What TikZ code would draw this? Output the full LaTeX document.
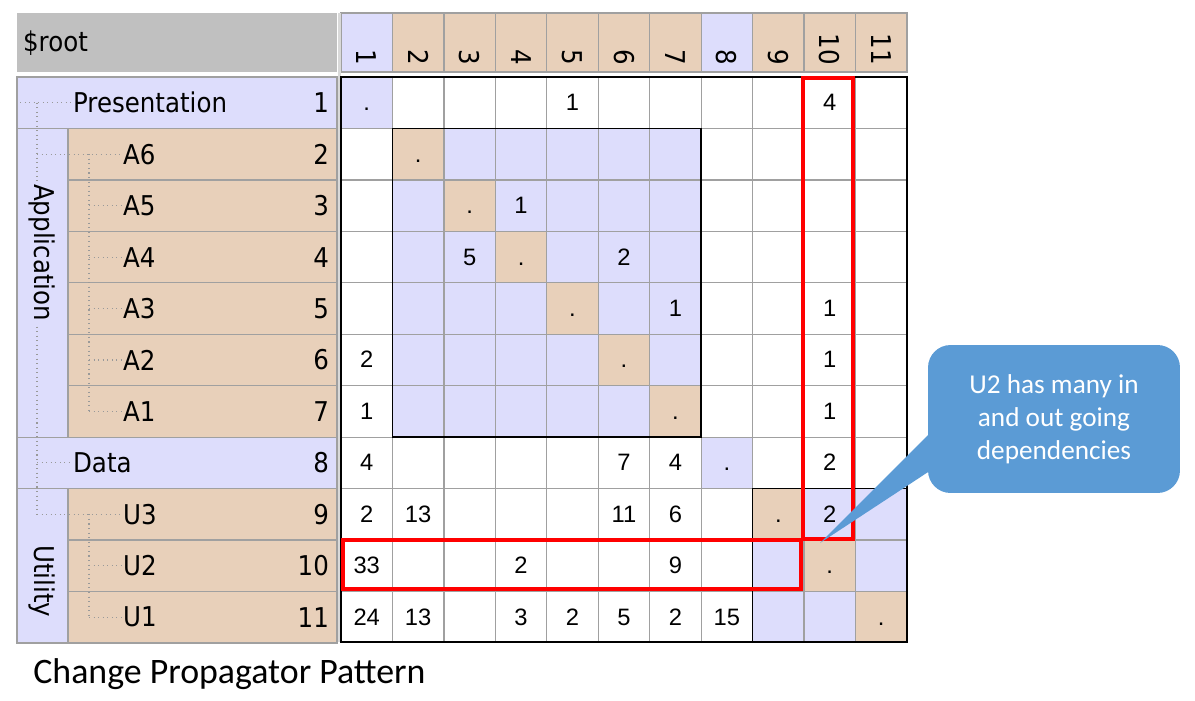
\documentclass[tikz,border=0pt]{standalone}
\usepackage{fontspec}
\setmainfont{Liberation Sans}
\newfontfamily\tahfont[FakeStretch=0.9]{DejaVu Sans}
\newfontfamily\calfont{Carlito}
\definecolor{lavender}{RGB}{221,221,252}
\definecolor{tanbg}{RGB}{232,208,186}
\definecolor{hdrgray}{RGB}{192,192,192}
\definecolor{gridgray}{RGB}{160,160,160}
\definecolor{noteblue}{RGB}{91,155,213}
\def\cw{51.45}
\tikzset{%
  % Specifications for style of cells and texts:
       cellbase/.style = {draw=gridgray, line width=0.7pt},
        lavcell/.style = {cellbase, fill=lavender},
        tancell/.style = {cellbase, fill=tanbg},
       rowlabel/.style = {inner sep=1pt, font=\tahfont\fontsize{15.5}{18}\selectfont},
       collabel/.style = {rowlabel, rotate=-90, anchor=east},
     grouplabel/.style = {rowlabel, rotate=-90, anchor=west, fill=lavender},
       cellval/.style  = {inner sep=0pt, anchor=base,
                          font=\fontsize{13.5}{16}\selectfont},
       treeline/.style = {draw=gray!80, dotted, line width=0.6pt},
       gridline/.style = {draw=gridgray, line width=0.7pt},
      blockline/.style = {draw=black, line width=1pt},
       markline/.style = {draw=red, line width=2pt},
        notebox/.style = {rectangle, rounded corners=0.45cm, fill=noteblue,
                          text=white, minimum width=5.04cm, minimum height=2.96cm,
                          align=center, font=\calfont\fontsize{15.5}{18.7}\selectfont},
}
\begin{document}
\begin{tikzpicture}[x=0.02cm, y=-0.02cm]
  \useasboundingbox (0,0) rectangle (1195,700);

  % Tree header and column headers
  \path[fill=hdrgray] (17,13) rectangle (337,72);
  \node (root) [rowlabel, anchor=west] at (21,43) {\$root};
  \foreach \c/\clr in {1/lavender,2/tanbg,3/tanbg,4/tanbg,5/tanbg,6/tanbg,
                       7/tanbg,8/lavender,9/tanbg,10/tanbg,11/tanbg} {
    \path[cellbase, fill=\clr] ({341+(\c-1)*\cw},13) rectangle ({341+\c*\cw},72);
    \node (col\c) [collabel] at ({341+(\c-0.5)*\cw},67) {\c};
  }
  \draw[gray!30, line width=1.5pt] (339.5,13) -- (339.5,642);

  % Rows of the tree
  \foreach \r/\clr/\xl in {1/lavender/17,2/tanbg/68,3/tanbg/68,4/tanbg/68,
                           5/tanbg/68,6/tanbg/68,7/tanbg/68,8/lavender/17,
                           9/tanbg/68,10/tanbg/68,11/tanbg/68}
    \path[cellbase, fill=\clr] (\xl,{77+(\r-1)*\cw}) rectangle (337,{77+\r*\cw});
  \path[lavcell] (17,{77+\cw}) rectangle (68,{77+7*\cw});
  \path[lavcell] (17,{77+8*\cw}) rectangle (68,{77+11*\cw});

  \node (pres) [rowlabel, anchor=west] at (71,{77+0.5*\cw}) {Presentation};
  \node (data) [rowlabel, anchor=west] at (71,{77+7.5*\cw}) {Data};
  \foreach \r/\nm/\txt in {2/a6/A6,3/a5/A5,4/a4/A4,5/a3/A3,6/a2/A2,7/a1/A1,
                           9/u3/U3,10/u2/U2,11/u1/U1}
    \node (\nm) [rowlabel, anchor=west] at (121,{77+(\r-0.5)*\cw}) {\txt};
  \foreach \r in {1,...,11}
    \node (num\r) [rowlabel, anchor=east] at (331,{77+(\r-0.5)*\cw}) {\r};

  % Dotted tree lines
  \coordinate (lvl0) at (20,0);
  \coordinate (lvl1) at (37,0);
  \coordinate (lvl2) at (89,0);
  \draw[treeline] (lvl0 |- pres.west) -- (pres.west);
  \draw[treeline] (lvl1 |- pres.west) -- (lvl1 |- u3.west);
  \draw[treeline] (lvl1 |- a6.west) -- (a6.west);
  \draw[treeline] (lvl2 |- a6.west) -- (lvl2 |- a1.west);
  \foreach \nm in {a5,a4,a3,a2,a1}
    \draw[treeline] (lvl2 |- \nm.west) -- (\nm.west);
  \draw[treeline] (lvl1 |- data.west) -- (data.west);
  \draw[treeline] (lvl1 |- u3.west) -- (u3.west);
  \draw[treeline] (lvl2 |- u3.west) -- (lvl2 |- u1.west);
  \foreach \nm in {u2,u1}
    \draw[treeline] (lvl2 |- \nm.west) -- (\nm.west);

  \node (app) [grouplabel] at (42,182) {Application};
  \node (util) [grouplabel] at (42,543) {Utility};

  % Dependency matrix
  \path[fill=white] (341,77) rectangle (907,642);
  \fill[lavender] (341,77) rectangle +(\cw,\cw);
  \fill[lavender] ({341+7*\cw},{77+7*\cw}) rectangle +(\cw,\cw);
  \fill[lavender] ({341+\cw},{77+\cw}) rectangle ({341+7*\cw},{77+7*\cw});
  \fill[lavender] ({341+8*\cw},{77+8*\cw}) rectangle (907,642);
  \foreach \i in {2,3,4,5,6,7,9,10,11}
    \fill[tanbg] ({341+(\i-1)*\cw},{77+(\i-1)*\cw}) rectangle +(\cw,\cw);
  \foreach \i in {1,...,10} {
    \draw[gridline] ({341+\i*\cw},77) -- ({341+\i*\cw},642);
    \draw[gridline] (341,{77+\i*\cw}) -- (907,{77+\i*\cw});
  }
  \draw[blockline] (341,77) rectangle (907,642);
  \draw[blockline] ({341+\cw},{77+\cw}) rectangle ({341+7*\cw},{77+7*\cw});
  \draw[blockline] ({341+8*\cw},{77+8*\cw}) rectangle (907,642);

  \foreach \r/\c/\v in {1/1/., 1/5/1, 1/10/4, 2/2/., 3/3/., 3/4/1,
                        4/3/5, 4/4/., 4/6/2, 5/5/., 5/7/1, 5/10/1,
                        6/1/2, 6/6/., 6/10/1, 7/1/1, 7/7/., 7/10/1,
                        8/1/4, 8/6/7, 8/7/4, 8/8/., 8/10/2,
                        9/1/2, 9/2/13, 9/6/11, 9/7/6, 9/9/., 9/10/2,
                        10/1/33, 10/4/2, 10/7/9, 10/10/.,
                        11/1/24, 11/2/13, 11/4/3, 11/5/2, 11/6/5, 11/7/2,
                        11/8/15, 11/11/.}
    \node (v\r-\c) [cellval] at ({341+(\c-0.5)*\cw},{77+(\r-0.5)*\cw+8}) {\v};

  % Highlight of U2
  \draw[markline] (803,78) rectangle (853,539);
  \draw[markline] (343,540) rectangle (801,589);

  % Callout
  \node (note) [notebox] at (1054,419) {U2 has many in\\and out going\\dependencies};
  \coordinate (tip) at (820,543);
  \fill[noteblue] ([xshift=2pt, yshift=-0.26cm]note.west) -- (tip)
                  -- ([xshift=2pt, yshift=-1.02cm]note.west) -- cycle;

  \node (caption) [anchor=base west, inner sep=0pt,
                   font=\calfont\fontsize{20.4}{24}\selectfont] at (33,683)
                  {Change Propagator Pattern};
\end{tikzpicture}
\end{document}
